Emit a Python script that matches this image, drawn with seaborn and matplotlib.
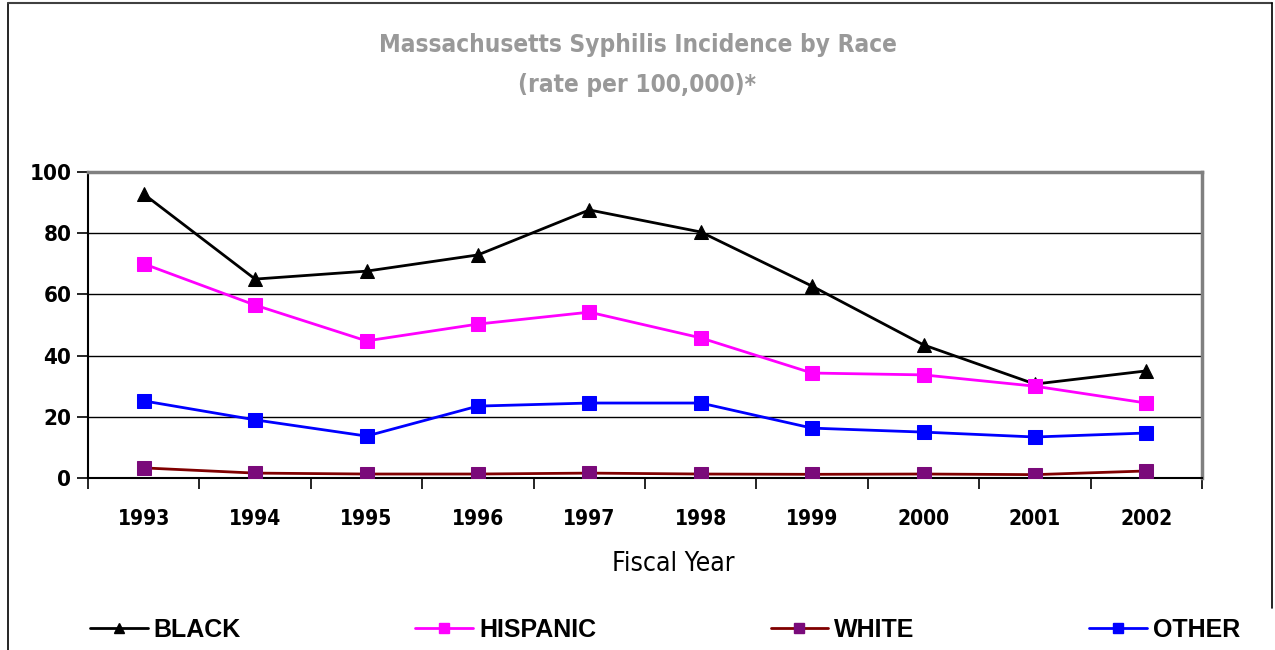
import matplotlib
matplotlib.use("Agg")
import matplotlib.pyplot as plt
import seaborn as sns
import pandas as pd
from matplotlib.lines import Line2D

years = ["1993", "1994", "1995", "1996", "1997", "1998", "1999", "2000", "2001", "2002"]
black = [92.8, 65.0, 67.6, 72.9, 87.6, 80.4, 62.7, 43.5, 30.7, 35.0]
hispanic = [70.0, 56.5, 44.8, 50.3, 54.2, 45.8, 34.3, 33.7, 30.0, 24.5]
white = [3.3, 1.6, 1.3, 1.3, 1.6, 1.3, 1.2, 1.3, 1.1, 2.3]
other = [25.2, 19.0, 13.7, 23.5, 24.5, 24.5, 16.3, 15.0, 13.4, 14.7]
y_ticks = [0, 20, 40, 60, 80, 100]

sns.set_theme(style="white")
plt.rcParams["font.family"] = ["Liberation Sans", "DejaVu Sans"]
plt.rcParams["text.color"] = "black"
plt.rcParams["xtick.color"] = "black"
plt.rcParams["ytick.color"] = "black"
plt.rcParams["axes.labelcolor"] = "black"

NARROW = ["DejaVu Sans"]

fig = plt.figure(figsize=(12.75, 6.5), dpi=100)
ax = fig.add_axes([88 / 1275, 1 - 478 / 650, (1202 - 88) / 1275, (478 - 172) / 650])

x = list(range(len(years)))
series = [
    ("BLACK", black, "black", "^", "black"),
    ("HISPANIC", hispanic, "#ff00ff", "s", "#ff00ff"),
    ("WHITE", white, "#800000", "s", "#7a0a7a"),
    ("OTHER", other, "#0000ff", "s", "#0000ff"),
]
handles = []
for name, vals, lc, mk, mc in series:
    df = pd.DataFrame({"x": x, "y": vals})
    sns.lineplot(data=df, x="x", y="y", ax=ax, color=lc, marker=mk, markersize=10,
                 markerfacecolor=mc, markeredgecolor=mc, linewidth=2, zorder=3)
    handles.append(Line2D([], [], color=lc, marker=mk, markersize=7,
                          markerfacecolor=mc, markeredgecolor=mc, linewidth=2, label=name))

ax.set_xlim(-0.5, len(years) - 0.5)
ax.set_ylim(0, 100)
ax.set_yticks(y_ticks)
ax.set_yticklabels([str(v) for v in y_ticks], fontfamily=NARROW, fontstretch="condensed",
                   fontweight="bold", fontsize=16)
ax.set_xticks(x)
ax.set_xticklabels(years, fontfamily=NARROW, fontstretch="condensed", fontweight="bold", fontsize=15)
ax.set_xticks([i - 0.5 for i in range(len(years) + 1)], minor=True)
ax.tick_params(axis="x", which="major", length=0, pad=22)
ax.tick_params(axis="x", which="minor", length=8, width=1.2, color="black", direction="out", bottom=True)
ax.tick_params(axis="y", which="major", length=8, width=1.2, color="black", direction="out", left=True, pad=4)

for v in y_ticks[1:-1]:
    ax.axhline(v, color="black", linewidth=1, zorder=1)

for s in ["left", "bottom"]:
    ax.spines[s].set_color("black")
    ax.spines[s].set_linewidth(1.5)
for s in ["top", "right"]:
    ax.spines[s].set_color("#808080")
    ax.spines[s].set_linewidth(2.5)

ax.set_xlabel("Fiscal Year", fontfamily=NARROW, fontstretch="condensed", fontsize=19, labelpad=17)
ax.xaxis.set_label_coords((673 - 88) / 1114, -0.24)
ax.set_ylabel("")

fig.text(0.5, 1 - 45 / 650, "Massachusetts Syphilis Incidence by Race", ha="center", va="center",
         fontfamily=NARROW, fontstretch="condensed", fontweight="bold", fontsize=17.5, color="#999999")
fig.text(0.5, 1 - 85 / 650, "(rate per 100,000)*", ha="center", va="center",
         fontfamily=NARROW, fontstretch="condensed", fontweight="bold", fontsize=17.5, color="#999999")

fig.legend(handles=handles, loc="center", ncol=4, mode="expand",
           bbox_to_anchor=(80 / 1275, 0, 1170 / 1275, 40 / 650),
           frameon=False, prop={"family": ["Liberation Sans", "DejaVu Sans"], "weight": "bold", "size": 18},
           handlelength=2.3, handletextpad=0.25, borderaxespad=0)

fig.add_artist(Line2D([8 / 1275, 8 / 1275], [0, 1 - 3 / 650], color="black", linewidth=1.2))
fig.add_artist(Line2D([8 / 1275, 1272 / 1275], [1 - 3 / 650, 1 - 3 / 650], color="#404040", linewidth=1.5))
fig.add_artist(Line2D([1272 / 1275, 1272 / 1275], [1 - 608 / 650, 1 - 3 / 650], color="black", linewidth=1.2))

fig.savefig("out.png", dpi=100)
